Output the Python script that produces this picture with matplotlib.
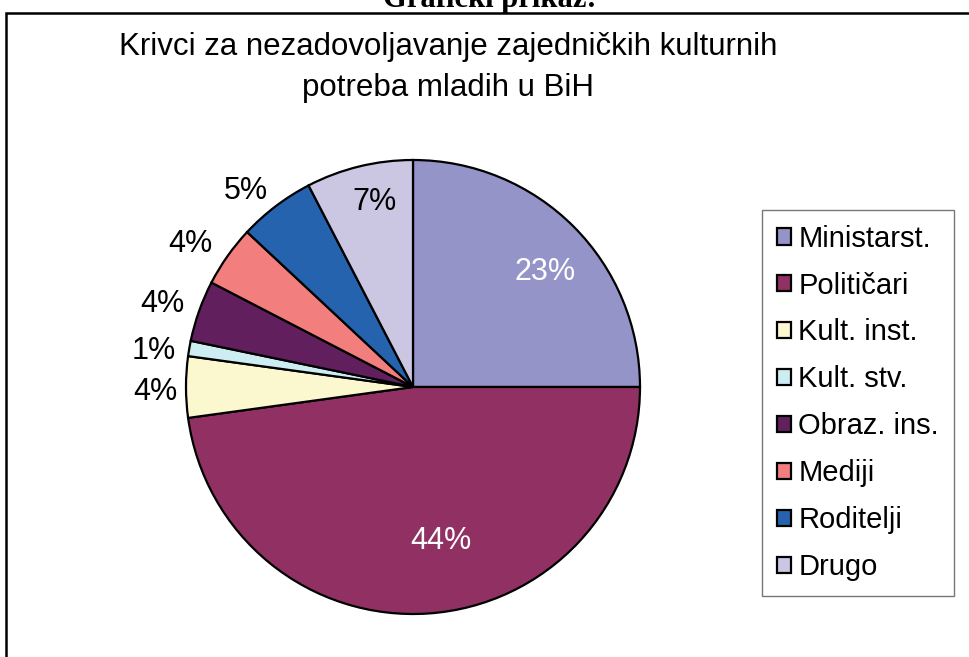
import numpy as np
import matplotlib.pyplot as plt
from matplotlib.patches import Rectangle

plt.rcParams['font.family'] = ['Liberation Sans', 'DejaVu Sans']

# data (labels shown as given, sum is 92)
categories = ['Ministarst.', 'Političari', 'Kult. inst.', 'Kult. stv.',
              'Obraz. ins.', 'Mediji', 'Roditelji', 'Drugo']
values = [23, 44, 4, 1, 4, 4, 5, 7]
colors = ['#9494C8', '#913163', '#FBF8D0', '#CDEDF2',
          '#611F5E', '#F27E7E', '#2563AE', '#CBC7E3']
# label placement: radius (fraction of pie radius), pixel nudge, colour
label_dist = [0.78, 0.68, 1.15, 1.15, 1.16, 1.17, 1.14, 0.84]
label_nudge = [(7, -10), (17, 0), (3, -5), (-2, -8), (-3, -5), (-6, -10), (-11, -10), (7, 0)]
label_color = ['white', 'white', 'black', 'black', 'black', 'black', 'black', 'black']

W, H = 970, 657
fig = plt.figure(figsize=(W / 100, H / 100), dpi=100)

# pie centre and radius in pixels
cx, cy, r = 413, 387, 227
half = r * 1.25
ax = fig.add_axes([(cx - half) / W, 1 - (cy + half) / H, 2 * half / W, 2 * half / H])
wedges, _ = ax.pie(values, colors=colors, startangle=90, counterclock=False,
                   wedgeprops=dict(edgecolor='black', linewidth=1.6))
ax.set_xlim(-1.25, 1.25)
ax.set_ylim(-1.25, 1.25)
ax.set_aspect('equal')

for w, v, d, n, c in zip(wedges, values, label_dist, label_nudge, label_color):
    mid = np.deg2rad((w.theta1 + w.theta2) / 2)
    ax.annotate(f'{v}%', (d * np.cos(mid), d * np.sin(mid)), xytext=n,
                textcoords='offset pixels', ha='center', va='center',
                fontsize=22, color=c)

fig.text(448 / W, 1 - 47 / H, 'Krivci za nezadovoljavanje zajedničkih kulturnih',
         ha='center', va='center', fontsize=22.5)
fig.text(448 / W, 1 - 88 / H, 'potreba mladih u BiH', ha='center', va='center', fontsize=22.5)

# heading above the frame, partly cut off
fig.text(490 / W, 1 - 7 / H, 'Grafički prikaz:', ha='center', va='baseline',
         fontsize=22, fontweight='bold', family='Liberation Serif')

# outer frame
fig.patches.append(Rectangle((6 / W, -0.1), 1.2, 1 - 13 / H + 0.1, transform=fig.transFigure,
                             fill=False, edgecolor='black', linewidth=1.8))

leg = fig.legend(wedges, categories, loc='upper left',
                 bbox_to_anchor=(762 / W, 1 - 210 / H), fontsize=21,
                 frameon=True, fancybox=False, edgecolor='#555555',
                 handlelength=0.5, handleheight=0.5, handletextpad=0.25,
                 labelspacing=0.65, borderpad=0.5, borderaxespad=0)
leg.get_frame().set_linewidth(1.0)

fig.savefig('out.png', dpi=100)
